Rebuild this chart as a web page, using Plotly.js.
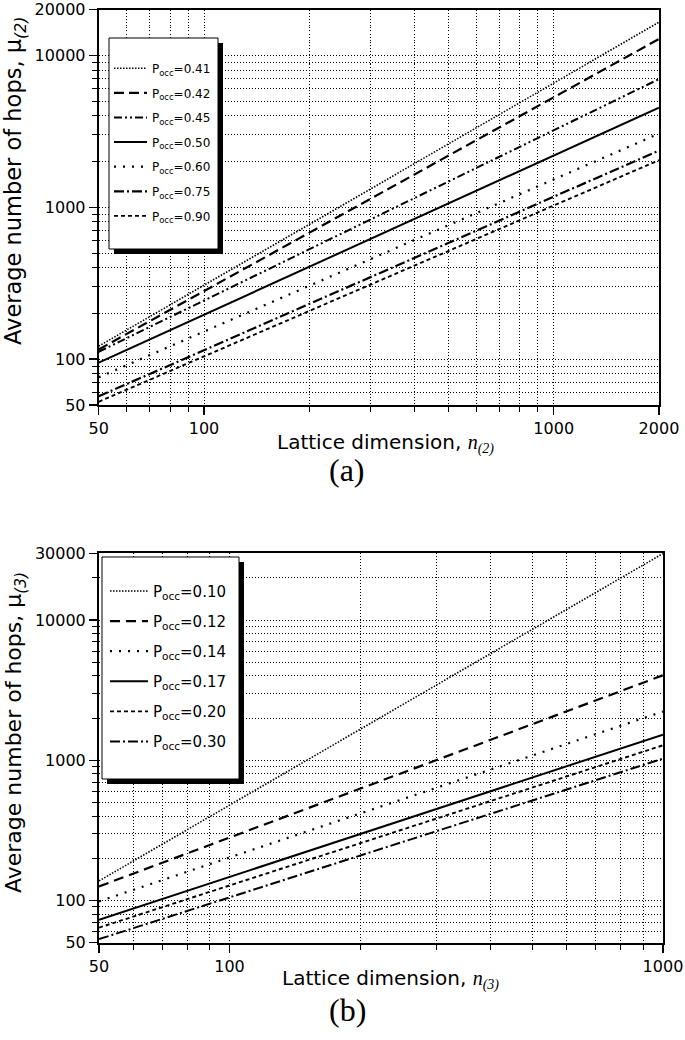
<!DOCTYPE html>
<html>
<head>
<meta charset="utf-8">
<script src="https://cdn.plot.ly/plotly-3.0.1.min.js"></script>
<style>html,body{margin:0;padding:0;background:#fff;}</style>
</head>
<body>
<div id="chart" style="width:685px;height:1040px;"></div>
<script>
// ---------- data ----------
// (a) two-dimensional lattice
const nA = [50, 2000];
const labelsA = ['0.41', '0.42', '0.45', '0.50', '0.60', '0.75', '0.90'];
const muA_041 = [122, 16500];
const muA_042 = [116, 12800];
const muA_045 = [112, 6970];
const muA_050 = [95, 4525];
const muA_060 = [76, 3050];
const muA_075 = [57, 2360];
const muA_090 = [52.5, 2040];

// (b) three-dimensional lattice
const nB = [50, 1000];
const labelsB = ['0.10', '0.12', '0.14', '0.17', '0.20', '0.30'];
const muB_010 = [138, 29900];
const muB_012 = [126, 4045];
const muB_014 = [98.5, 2230];
const muB_017 = [72.8, 1526];
const muB_020 = [64, 1280];
const muB_030 = [53, 1028];

// tick labels
const xTicksA = [50, 100, 1000, 2000];
const yTicksA = [50, 100, 1000, 10000, 20000];
const xTicksB = [50, 100, 1000];
const yTicksB = [50, 100, 1000, 10000, 30000];
const xMinorA = [60,70,80,90,200,300,400,500,600,700,800,900];
const yMinorA = [60,70,80,90,200,300,400,500,600,700,800,900,2000,3000,4000,5000,6000,7000,8000,9000];
const xMinorB = [60,70,80,90,200,300,400,500,600,700,800,900];
const yMinorB = [60,70,80,90,200,300,400,500,600,700,800,900,2000,3000,4000,5000,6000,7000,8000,9000,20000];

// ---------- styling ----------
const FONT = 'DejaVu Sans';
const W = 685, H = 1040;
const px = v => v / W;
const py = v => 1 - v / H;
const L = v => Math.log10(v);

const stylesA = [
  {dash: '1.5px,1.5px', width: 1.6},
  {dash: '10px,5px', width: 2.2},
  {dash: '8px,3px,2px,3px,2px,3px', width: 2},
  {dash: 'solid', width: 2},
  {dash: '2px,7px', width: 2.2},
  {dash: '10px,3px,2px,3px', width: 2.2},
  {dash: '4px,3px', width: 1.9}
];
const seriesA = [muA_041, muA_042, muA_045, muA_050, muA_060, muA_075, muA_090];

const stylesB = [
  {dash: '1.5px,1.5px', width: 1.6},
  {dash: '10px,6px', width: 2.2},
  {dash: '2px,7px', width: 2.2},
  {dash: 'solid', width: 2},
  {dash: '4px,3px', width: 1.9},
  {dash: '10px,3px,2px,3px', width: 2}
];
const seriesB = [muB_010, muB_012, muB_014, muB_017, muB_020, muB_030];

const traces = [];
seriesA.forEach((s, i) => {
  traces.push({
    type: 'scatter', mode: 'lines', x: nA, y: s, xaxis: 'x', yaxis: 'y',
    name: 'P<sub>occ</sub>=' + labelsA[i], legend: 'legend', legendgroup: 'a' + i,
    line: {color: '#000', dash: stylesA[i].dash, width: stylesA[i].width}
  });
});
seriesB.forEach((s, i) => {
  traces.push({
    type: 'scatter', mode: 'lines', x: nB, y: s, xaxis: 'x2', yaxis: 'y2',
    name: 'P<sub>occ</sub>=' + labelsB[i], legend: 'legend2', legendgroup: 'b' + i,
    line: {color: '#000', dash: stylesB[i].dash, width: stylesB[i].width}
  });
});

const GRID = {gridcolor: '#000', griddash: '1px,2px', gridwidth: 1};
function axis(opts) {
  return Object.assign({
    type: 'log', showline: true, linecolor: '#000', linewidth: 2, mirror: true,
    ticks: 'outside', ticklen: 8, tickwidth: 1.5, tickcolor: '#000',
    tickmode: 'array', showgrid: true, zeroline: false,
    tickfont: {family: FONT, size: 16, color: '#000'},
    gridcolor: GRID.gridcolor, griddash: GRID.griddash, gridwidth: GRID.gridwidth
  }, opts);
}
function minor(vals) {
  return {tickmode: 'array', tickvals: vals, ticks: 'outside', ticklen: 5, tickwidth: 1,
          tickcolor: '#000', showgrid: true, gridcolor: GRID.gridcolor,
          griddash: GRID.griddash, gridwidth: GRID.gridwidth};
}
const eps = 1e-4;

const layout = {
  width: W, height: H,
  margin: {l: 0, r: 0, t: 0, b: 0},
  paper_bgcolor: '#fff', plot_bgcolor: '#fff',
  showlegend: true,
  xaxis: axis({domain: [px(98.7), px(659)], anchor: 'y',
    range: [L(50) - eps, L(2000) + eps],
    tickvals: xTicksA, ticktext: xTicksA.map(String), minor: minor(xMinorA)}),
  yaxis: axis({domain: [py(405), py(9.5)], anchor: 'x',
    range: [L(50) - eps, L(20000) + eps],
    tickvals: yTicksA, ticktext: yTicksA.map(String), minor: minor(yMinorA)}),
  xaxis2: axis({domain: [px(99), px(663)], anchor: 'y2',
    range: [L(50) - eps, L(1000) + eps],
    tickvals: xTicksB, ticktext: xTicksB.map(String), minor: minor(xMinorB)}),
  yaxis2: axis({domain: [py(942.7), py(553.3)], anchor: 'x2',
    range: [L(50) - eps, L(30000) + eps],
    tickvals: yTicksB, ticktext: yTicksB.map(String), minor: minor(yMinorB)}),
  legend: {x: px(109), y: py(53.8), xanchor: 'left', yanchor: 'top',
    bgcolor: 'rgba(0,0,0,0)', borderwidth: 0, itemwidth: 33, tracegroupgap: 5.6,
    font: {family: FONT, size: 12, color: '#000'}},
  legend2: {x: px(105), y: py(574.7), xanchor: 'left', yanchor: 'top',
    bgcolor: 'rgba(0,0,0,0)', borderwidth: 0, itemwidth: 38, tracegroupgap: 7.6,
    font: {family: FONT, size: 15, color: '#000'}},
  shapes: [
    {type: 'rect', xref: 'paper', yref: 'paper', layer: 'above',
     x0: px(114), x1: px(223), y0: py(43), y1: py(254), fillcolor: '#000', line: {width: 0}},
    {type: 'rect', xref: 'paper', yref: 'paper', layer: 'above',
     x0: px(109), x1: px(218), y0: py(38), y1: py(249), fillcolor: '#fff', line: {color: '#000', width: 1}},
    {type: 'rect', xref: 'paper', yref: 'paper', layer: 'above',
     x0: px(107), x1: px(244), y0: py(562), y1: py(784), fillcolor: '#000', line: {width: 0}},
    {type: 'rect', xref: 'paper', yref: 'paper', layer: 'above',
     x0: px(102), x1: px(239), y0: py(557), y1: py(779), fillcolor: '#fff', line: {color: '#000', width: 1}}
  ],
  annotations: [
    {text: 'Average number of hops, μ<sub><i>(2)</i></sub>', xref: 'paper', yref: 'paper',
     x: px(15), y: py(181), xanchor: 'center', yanchor: 'middle', textangle: -90, showarrow: false,
     borderpad: 0, font: {family: FONT, size: 22.5, color: '#000'}},
    {text: 'Lattice dimension, <span style="font-family:Liberation Serif"><i>n</i><sub><i>(2)</i></sub></span>',
     xref: 'paper', yref: 'paper', x: px(385), y: py(443), xanchor: 'center', yanchor: 'middle',
     showarrow: false, font: {family: FONT, size: 20, color: '#000'}},
    {text: '(a)', xref: 'paper', yref: 'paper', x: px(347), y: py(470), xanchor: 'center', yanchor: 'middle',
     showarrow: false, font: {family: 'Liberation Serif', size: 32, color: '#000'}},
    {text: 'Average number of hops, μ<sub><i>(3)</i></sub>', xref: 'paper', yref: 'paper',
     x: px(15), y: py(733), xanchor: 'center', yanchor: 'middle', textangle: -90, showarrow: false,
     borderpad: 0, font: {family: FONT, size: 22, color: '#000'}},
    {text: 'Lattice dimension, <span style="font-family:Liberation Serif"><i>n</i><sub><i>(3)</i></sub></span>',
     xref: 'paper', yref: 'paper', x: px(390), y: py(979), xanchor: 'center', yanchor: 'middle',
     showarrow: false, font: {family: FONT, size: 20, color: '#000'}},
    {text: '(b)', xref: 'paper', yref: 'paper', x: px(348), y: py(1010), xanchor: 'center', yanchor: 'middle',
     showarrow: false, font: {family: 'Liberation Serif', size: 32, color: '#000'}}
  ]
};

Plotly.newPlot('chart', traces, layout, {displayModeBar: false, staticPlot: true});
</script>
</body>
</html>
